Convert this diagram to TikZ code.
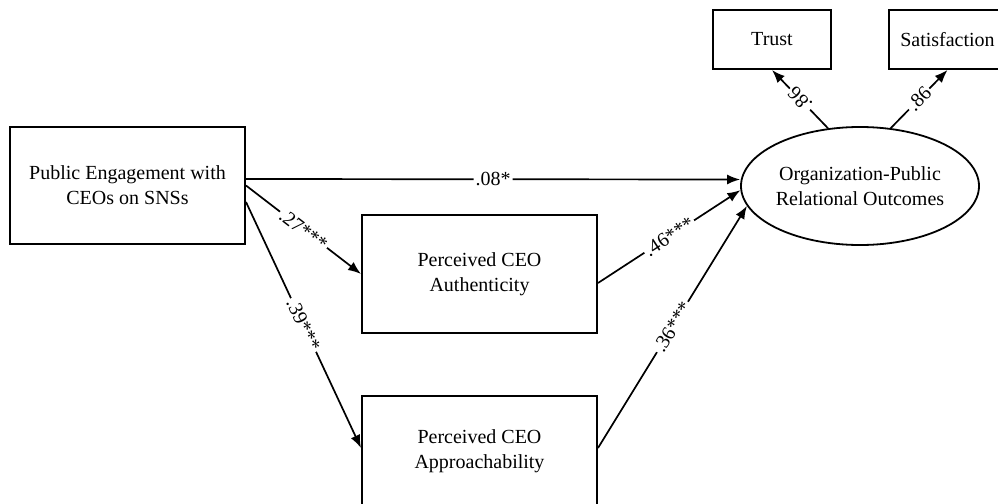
\documentclass[tikz,border=0pt]{standalone}
\usepackage{fontspec}
\setmainfont{Liberation Serif}
\usetikzlibrary{shapes,arrows.meta,positioning}
\tikzset{
        block/.style = {draw, fill=white, rectangle, line width=1pt, align=center, inner sep=0pt, minimum width=117.5pt, minimum height=59pt},
        latent/.style = {draw, fill=white, ellipse, line width=0.9pt, align=center, inner sep=0pt, minimum width=117pt, minimum height=59pt},
        small/.style = {block, minimum width=59pt, minimum height=29.5pt},
        link/.style = {->, line width=0.85pt},
        coef/.style = {fill=white, inner sep=1pt, sloped},
    }
\begin{document}
\begin{tikzpicture}[x=0.5pt, y=-0.5pt, >={Latex[length=6.5pt,width=5pt]}, font=\fontsize{10}{12.5}\selectfont]
    \useasboundingbox (0,0) rectangle (998,504);

    \node [block, minimum height=58.5pt] (engage) at (127.5,185.5) {Public Engagement with\\CEOs on SNSs};
    \node [block] (auth) at (479.5,274) {Perceived CEO\\Authenticity};
    \node [block, minimum height=55pt] (appr) at (479.5,451) {Perceived CEO\\Approachability};
    \node [latent] (outcome) at (860,186) {Organization-Public\\Relational Outcomes};
    \node [small] (trust) at (772,39.5) {Trust};
    \node [small, minimum width=58.5pt] (satis) at (947.5,39.5) {Satisfaction};

    \draw [link] ([yshift=3.25pt]engage.east) -- node [coef] {.08*} ([yshift=3.25pt]outcome.west);
    \draw [link] (engage.east) -- node [coef] {.27***} (auth.west);
    \draw [link] ([yshift=-8.25pt]engage.east) -- node [coef] {.39***} ([yshift=1.5pt]appr.west);
    \draw [link] ([yshift=-4.5pt]auth.east) -- node [coef] {.46***} (outcome.182);
    \draw [link] ([yshift=1.5pt]appr.east) -- node [coef] {.36***} (outcome.190);
    \draw [link] (outcome.119) -- node [coef, allow upside down] {.86} (trust.south);
    \draw [link] (outcome.62) -- node [coef] {.86} (satis.south);

\end{tikzpicture}
\end{document}
